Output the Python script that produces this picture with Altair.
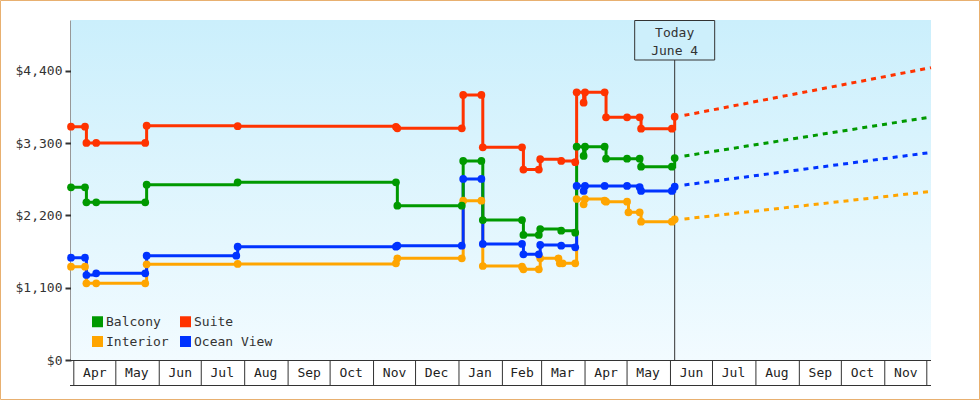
import altair as alt
import pandas as pd

FONT = "DejaVu Sans Mono"
SERIES = ["Balcony", "Suite", "Interior", "Ocean View"]
COLORS = ["#009900", "#ff3300", "#ffa500", "#0033ff"]

# observed prices (step-after)
suite_dates = ["2013-03-30", "2013-04-09", "2013-04-10", "2013-04-17", "2013-05-22", "2013-05-23",
               "2013-07-27", "2013-11-17", "2013-11-18", "2014-01-03", "2014-01-04", "2014-01-17",
               "2014-01-18", "2014-02-15", "2014-02-16", "2014-02-27", "2014-02-28", "2014-03-15",
               "2014-03-25", "2014-03-26", "2014-03-31", "2014-04-01", "2014-04-15", "2014-04-16",
               "2014-05-01", "2014-05-10", "2014-05-11", "2014-06-02", "2014-06-04"]
suite_prices = [3552, 3552, 3304, 3304, 3304, 3567,
                3560, 3550, 3528, 3528, 4035, 4035,
                3238, 3238, 2900, 2900, 3057, 3030,
                3011, 4076, 3917, 4076, 4076, 3695,
                3695, 3695, 3522, 3522, 3704]

balcony_dates = ["2013-03-30", "2013-04-09", "2013-04-10", "2013-04-17", "2013-05-22", "2013-05-23",
                 "2013-07-27", "2013-11-17", "2013-11-18", "2014-01-03", "2014-01-04", "2014-01-17",
                 "2014-01-18", "2014-02-15", "2014-02-16", "2014-02-27", "2014-02-28", "2014-03-15",
                 "2014-03-25", "2014-03-26", "2014-03-31", "2014-04-01", "2014-04-15", "2014-04-16",
                 "2014-05-01", "2014-05-10", "2014-05-11", "2014-06-02", "2014-06-04"]
balcony_prices = [2629, 2629, 2400, 2400, 2400, 2669,
                  2705, 2705, 2349, 2349, 3030, 3030,
                  2131, 2131, 1903, 1903, 1994, 1969,
                  1938, 3248, 3106, 3248, 3248, 3065,
                  3065, 3065, 2943, 2943, 3075]

ocean_dates = ["2013-03-30", "2013-04-09", "2013-04-10", "2013-04-17", "2013-05-22", "2013-05-23",
               "2013-07-26", "2013-07-27", "2013-11-17", "2013-11-18", "2014-01-03", "2014-01-04",
               "2014-01-17", "2014-01-18", "2014-02-15", "2014-02-16", "2014-02-27", "2014-02-28",
               "2014-03-15", "2014-03-25", "2014-03-26", "2014-03-31", "2014-04-01", "2014-04-15",
               "2014-05-01", "2014-05-10", "2014-05-11", "2014-06-02", "2014-06-04"]
ocean_prices = [1558, 1558, 1294, 1320, 1320, 1588,
                1588, 1725, 1725, 1740, 1740, 2756,
                2756, 1766, 1766, 1609, 1609, 1751,
                1740, 1716, 2649, 2573, 2649, 2649,
                2649, 2630, 2573, 2573, 2638]

interior_dates = ["2013-03-30", "2013-04-09", "2013-04-10", "2013-04-17", "2013-05-22", "2013-05-23",
                  "2013-07-27", "2013-11-17", "2013-11-18", "2014-01-03", "2014-01-04", "2014-01-17",
                  "2014-01-18", "2014-02-15", "2014-02-16", "2014-02-27", "2014-02-28", "2014-03-13",
                  "2014-03-14", "2014-03-16", "2014-03-25", "2014-03-26", "2014-03-31", "2014-04-01",
                  "2014-04-15", "2014-04-16", "2014-05-01", "2014-05-02", "2014-05-10", "2014-05-11",
                  "2014-06-02", "2014-06-04"]
interior_prices = [1421, 1421, 1168, 1168, 1168, 1457,
                   1462, 1472, 1548, 1548, 2425, 2425,
                   1431, 1421, 1381, 1381, 1548, 1548,
                   1472, 1472, 1472, 2451, 2371, 2451,
                   2425, 2410, 2410, 2249, 2249, 2106,
                   2106, 2142]

# projections (dashed)
proj_dates = ["2014-06-11", "2014-12-04"]
suite_proj = [3725, 4450]
balcony_proj = [3106, 3700]
ocean_proj = [2664, 3160]
interior_proj = [2147, 2566]

TODAY = "2014-06-04"
TODAY_LABEL = "Today\nJune 4"

month_labels = ["Apr", "May", "Jun", "Jul", "Aug", "Sep", "Oct", "Nov", "Dec", "Jan",
                "Feb", "Mar", "Apr", "May", "Jun", "Jul", "Aug", "Sep", "Oct", "Nov"]
month_starts = ["2013-04-01", "2013-05-01", "2013-06-01", "2013-07-01", "2013-08-01", "2013-09-01",
                "2013-10-01", "2013-11-01", "2013-12-01", "2014-01-01", "2014-02-01", "2014-03-01",
                "2014-04-01", "2014-05-01", "2014-06-01", "2014-07-01", "2014-08-01", "2014-09-01",
                "2014-10-01", "2014-11-01", "2014-12-01"]
month_mids = ["2013-04-16", "2013-05-16", "2013-06-16", "2013-07-16", "2013-08-16", "2013-09-16",
              "2013-10-16", "2013-11-16", "2013-12-16", "2014-01-16", "2014-02-15", "2014-03-16",
              "2014-04-16", "2014-05-16", "2014-06-16", "2014-07-16", "2014-08-16", "2014-09-16",
              "2014-10-16", "2014-11-16"]

y_ticks = [0, 1100, 2200, 3300, 4400]

W, H = 860, 340

def frame(name, dates, prices):
    return pd.DataFrame({"series": name, "date": dates, "price": prices})

obs = pd.concat([
    frame("Interior", interior_dates, interior_prices),
    frame("Ocean View", ocean_dates, ocean_prices),
    frame("Balcony", balcony_dates, balcony_prices),
    frame("Suite", suite_dates, suite_prices),
], ignore_index=True)

proj = pd.concat([
    frame("Interior", proj_dates, interior_proj),
    frame("Ocean View", proj_dates, ocean_proj),
    frame("Balcony", proj_dates, balcony_proj),
    frame("Suite", proj_dates, suite_proj),
], ignore_index=True)

xscale = alt.Scale(type="utc",
                   domain=[alt.DateTime(year=2013, month=3, date=30, utc=True),
                           alt.DateTime(year=2014, month=12, date=4, utc=True)])
yscale = alt.Scale(domain=[0, 5176], nice=False)
cscale = alt.Scale(domain=SERIES, range=COLORS)

X = alt.X("date:T", scale=xscale, axis=None)
Y = alt.Y("price:Q", scale=yscale,
          axis=alt.Axis(values=y_ticks, format="$,.0f", title=None, grid=False,
                        domainColor="#333333", domainWidth=2, tickColor="#333333",
                        tickWidth=2, tickSize=6, labelPadding=3, labelFont=FONT,
                        labelFontSize=13, labelColor="#333333"))

bg = alt.Chart(pd.DataFrame({"a": [0]})).mark_rect(
    color=alt.Gradient(gradient="linear",
                       stops=[alt.GradientStop(color="#cbeffc", offset=0),
                              alt.GradientStop(color="#f2fbff", offset=1)],
                       x1=0, x2=0, y1=0, y2=1)
).encode(x=alt.value(0), x2=alt.value(W), y=alt.value(0), y2=alt.value(H))

border = alt.Chart(pd.DataFrame({"a": [0]})).mark_rect(
    fillOpacity=0, stroke="#e8b070", strokeWidth=1
).encode(x=alt.value(-70.5), x2=alt.value(908.5), y=alt.value(-19.5), y2=alt.value(379.5))

lines = alt.Chart(obs).mark_line(interpolate="step-after", strokeWidth=3).encode(
    x=X, y=Y, color=alt.Color("series:N", scale=cscale, legend=None), detail="series:N")

dots = alt.Chart(obs).mark_point(filled=True, shape="circle", size=60, opacity=1).encode(
    x=X, y=Y,
    color=alt.Color("series:N", scale=cscale,
                    legend=alt.Legend(orient="none", legendX=20, legendY=295, columns=2,
                                      direction="horizontal",
                                      title=None, symbolType="square", symbolSize=121,
                                      symbolStrokeWidth=0, symbolOpacity=1,
                                      labelFont=FONT, labelFontSize=13, labelColor="#333333",
                                      labelOffset=2, columnPadding=10, rowPadding=6, padding=0)))

projection = alt.Chart(proj).mark_line(strokeWidth=3, strokeDash=[5, 5]).encode(
    x=X, y=Y, color=alt.Color("series:N", scale=cscale, legend=None), detail="series:N")

today_df = pd.DataFrame({"date": [TODAY], "label": [TODAY_LABEL]})
today_rule = alt.Chart(today_df).mark_rule(color="#333333", strokeWidth=1).encode(
    x=alt.X("date:T", scale=xscale, axis=None), y=alt.value(40), y2=alt.value(H))
today_box = alt.Chart(today_df).mark_rect(
    fill="#cdeffb", stroke="#333333", strokeWidth=1, xOffset=-40, x2Offset=40
).encode(x=alt.X("date:T", scale=xscale, axis=None), x2="date:T",
         y=alt.value(0.5), y2=alt.value(40))
today_text = alt.Chart(today_df).mark_text(
    font=FONT, fontSize=13, color="#333333", lineBreak="\n", lineHeight=18,
    baseline="top", align="center"
).encode(x=alt.X("date:T", scale=xscale, axis=None), y=alt.value(7), text="label:N")

# month band below the plot
hl = alt.Chart(pd.DataFrame({"a": [0]})).mark_rule(color="#333333", strokeWidth=1).encode(
    x=alt.value(-1), x2=alt.value(W), y=alt.value(H + 0.5))
hl2 = alt.Chart(pd.DataFrame({"a": [0]})).mark_rule(color="#333333", strokeWidth=1).encode(
    x=alt.value(-1), x2=alt.value(W), y=alt.value(H + 25.5))
mticks = alt.Chart(pd.DataFrame({"date": month_starts})).mark_rule(
    color="#333333", strokeWidth=1
).encode(x=alt.X("date:T", scale=xscale, axis=None), y=alt.value(H), y2=alt.value(H + 25))
mlabels = alt.Chart(pd.DataFrame({"date": month_mids, "m": month_labels})).mark_text(
    font=FONT, fontSize=13, color="#222222", baseline="middle", align="center"
).encode(x=alt.X("date:T", scale=xscale, axis=None), y=alt.value(H + 13), text="m:N")

chart = alt.layer(
    bg, border, hl, hl2, mticks, mlabels, today_rule, today_box, today_text,
    projection, lines, dots
).resolve_legend(color="independent").properties(
    width=W, height=H,
    autosize=alt.AutoSizeParams(type="none"),
    padding={"left": 71, "top": 20, "right": 49, "bottom": 40},
    background="white",
).configure_view(stroke=None)

chart.save("out.html", embed_options={"renderer": "svg", "actions": False})
